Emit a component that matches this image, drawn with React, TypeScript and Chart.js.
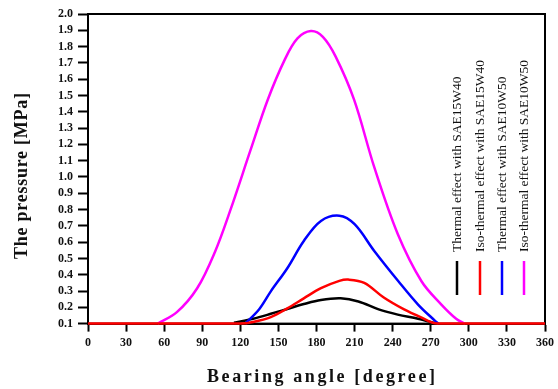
import React, { useEffect, useRef } from "react";
import { Chart, registerables } from "chart.js";
Chart.register(...registerables);

const xTicks = [0, 30, 60, 90, 120, 150, 180, 210, 240, 270, 300, 330, 360];
const yTicks = [0.1, 0.2, 0.3, 0.4, 0.5, 0.6, 0.7, 0.8, 0.9, 1.0, 1.1, 1.2, 1.3, 1.4, 1.5, 1.6, 1.7, 1.8, 1.9, 2.0];

const xTitle = "Bearing angle [degree]";
const yTitle = "The pressure [MPa]";

const seriesNames = [
  "Thermal effect with SAE15W40",
  "Iso-thermal effect with SAE15W40",
  "Thermal effect with SAE10W50",
  "Iso-thermal effect with SAE10W50",
];
const seriesColors = ["#000000", "#ff0000", "#0000ff", "#ff00ff"];

const blackAngles = [115, 130, 144, 157, 170, 183.5, 199, 213, 229, 244, 260, 275];
const blackValues = [0.105, 0.13, 0.16, 0.19, 0.22, 0.245, 0.255, 0.236, 0.187, 0.155, 0.13, 0.1];

const redAngles = [0, 120, 130, 144, 157, 170, 183.5, 198, 205, 217.6, 233, 249, 262, 275, 360];
const redValues = [0.1, 0.1, 0.11, 0.14, 0.193, 0.255, 0.317, 0.362, 0.37, 0.35, 0.26, 0.187, 0.14, 0.1, 0.1];

const blueAngles = [124, 135, 144, 157, 170, 183.5, 198, 210, 225.5, 244.5, 260, 273, 276];
const blueValues = [0.1, 0.19, 0.298, 0.44, 0.607, 0.73, 0.762, 0.71, 0.546, 0.36, 0.217, 0.12, 0.1];

const magentaAngles = [55, 70, 86, 100, 112, 128, 141.6, 155, 165, 175.6, 185, 195, 209.6, 225.5, 244, 262.7, 278, 290, 297];
const magentaValues = [0.1, 0.17, 0.317, 0.54, 0.793, 1.164, 1.474, 1.72, 1.85, 1.895, 1.86, 1.74, 1.474, 1.06, 0.65, 0.36, 0.22, 0.13, 0.1];

const allAngles = [blackAngles, redAngles, blueAngles, magentaAngles];
const allValues = [blackValues, redValues, blueValues, magentaValues];
const drawOrder = [3, 0, 1, 2];

const FONT = "'Liberation Serif', 'DejaVu Serif', serif";

function drawSpaced(ctx: any, text: string, width: number) {
  const n = text.length;
  ctx.letterSpacing = "0px";
  const w = ctx.measureText(text).width;
  const sp = Math.max(0, (width - w) / (n - 1));
  ctx.letterSpacing = sp + "px";
  const w2 = ctx.measureText(text).width;
  ctx.fillText(text, -w2 / 2 + sp / 2, 0);
  ctx.letterSpacing = "0px";
}

const framePlugin = {
  id: "frame",
  beforeDatasetsDraw(chart: any) {
    const { ctx, chartArea } = chart;
    ctx.save();
    ctx.strokeStyle = "#000";
    ctx.lineWidth = 2;
    ctx.strokeRect(chartArea.left, chartArea.top, chartArea.right - chartArea.left, chartArea.bottom - chartArea.top);
    ctx.restore();
  },
};

const titlePlugin = {
  id: "titles",
  afterDraw(chart: any) {
    const { ctx } = chart;
    ctx.save();
    ctx.fillStyle = "#111";
    ctx.textAlign = "left";
    ctx.textBaseline = "middle";
    ctx.font = "bold 18px " + FONT;
    ctx.save();
    ctx.translate(321, 377);
    drawSpaced(ctx, xTitle, 228);
    ctx.restore();
    ctx.save();
    ctx.translate(22, 176);
    ctx.rotate(-Math.PI / 2);
    drawSpaced(ctx, yTitle, 166);
    ctx.restore();
    ctx.restore();
  },
};

const legendPlugin = {
  id: "vlegend",
  afterDraw(chart: any) {
    const { ctx, chartArea } = chart;
    ctx.save();
    const xs = [457, 480, 502, 524];
    const textBottom = chartArea.top + 238;
    ctx.font = "13.5px " + FONT;
    ctx.fillStyle = "#111";
    seriesNames.forEach((name, i) => {
      const x = xs[i];
      ctx.save();
      ctx.translate(x, textBottom);
      ctx.rotate(-Math.PI / 2);
      ctx.textAlign = "left";
      ctx.textBaseline = "middle";
      ctx.fillText(name, 0, 0);
      ctx.restore();
      ctx.strokeStyle = seriesColors[i];
      ctx.lineWidth = 2.5;
      ctx.beginPath();
      ctx.moveTo(x, chartArea.top + 247);
      ctx.lineTo(x, chartArea.top + 281);
      ctx.stroke();
    });
    ctx.restore();
  },
};

export default function App() {
  const ref = useRef<HTMLCanvasElement>(null);
  useEffect(() => {
    if (!ref.current) return;
    const datasets = seriesNames.map((name, i) => ({
      label: name,
      data: allAngles[i].map((a, j) => ({ x: a, y: allValues[i][j] })),
      borderColor: seriesColors[i],
      backgroundColor: seriesColors[i],
      borderWidth: 2.5,
      pointRadius: 0,
      tension: 0.35,
      clip: 6,
      order: drawOrder[i],
    }));
    const chart = new Chart(ref.current, {
      type: "line",
      data: { datasets },
      options: {
        animation: false,
        responsive: true,
        maintainAspectRatio: false,
        layout: { padding: { top: 14, right: 12, left: 53, bottom: 35 } },
        plugins: { legend: { display: false }, tooltip: { enabled: false } },
        scales: {
          x: {
            type: "linear",
            min: 0,
            max: 360,
            afterBuildTicks: (axis: any) => {
              axis.ticks = xTicks.map((v) => ({ value: v }));
            },
            ticks: {
              color: "#111",
              font: { family: FONT, size: 12, weight: "bold" },
              padding: 4,
              maxRotation: 0,
              autoSkip: false,
            },
            grid: { drawOnChartArea: false, drawTicks: true, tickLength: 8, tickColor: "#000", tickWidth: 2 },
            border: { display: true, color: "#000", width: 2 },
          },
          y: {
            type: "linear",
            min: 0.1,
            max: 2.0,
            afterBuildTicks: (axis: any) => {
              axis.ticks = yTicks.map((v) => ({ value: v }));
            },
            ticks: {
              color: "#111",
              font: { family: FONT, size: 12, weight: "bold" },
              padding: 5,
              autoSkip: false,
              callback: (v: any) => Number(v).toFixed(1),
            },
            grid: { drawOnChartArea: false, drawTicks: true, tickLength: 10, tickColor: "#000", tickWidth: 2 },
            border: { display: true, color: "#000", width: 2 },
          },
        },
      },
      plugins: [framePlugin, titlePlugin, legendPlugin],
    });
    return () => chart.destroy();
  }, []);
  return (
    <div style={{ position: "fixed", left: 0, top: 0, width: 558, height: 389, background: "#fff" }}>
      <canvas ref={ref} />
    </div>
  );
}
